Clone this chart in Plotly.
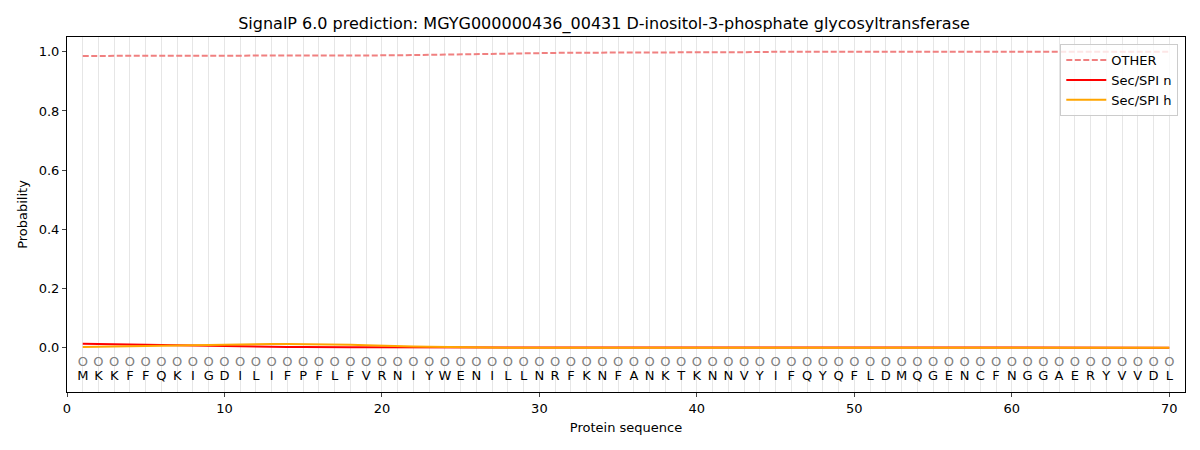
import plotly.graph_objects as go

sequence = list("MKKFFQKIGDILIFPFLFVRNIYWENILLNRFKNFANKTKNNVYIFQYQFLDMQGENCFNGGAERYVVDL")
positions = list(range(1, len(sequence) + 1))

other = [0.986, 0.986, 0.986, 0.986, 0.986, 0.986, 0.986, 0.986, 0.986, 0.986,
         0.986, 0.986, 0.986, 0.986, 0.986, 0.986, 0.986, 0.987, 0.987, 0.988,
         0.988, 0.989, 0.990, 0.991, 0.992, 0.993, 0.994, 0.995, 0.995, 0.996,
         0.996, 0.997, 0.997, 0.997, 0.998, 0.998, 0.998, 0.998, 0.999, 0.999,
         0.999, 0.999, 0.999, 0.999, 1.0, 1.0, 1.0, 1.0, 1.0, 1.0,
         1.0, 1.0, 1.0, 1.0, 1.0, 1.0, 1.0, 1.0, 1.0, 1.0,
         1.0, 1.0, 1.0, 1.0, 1.0, 1.0, 1.0, 1.0, 1.0, 1.0]
sec_n = [0.013, 0.012, 0.011, 0.010, 0.009, 0.008, 0.007, 0.006, 0.005, 0.004,
         0.003, 0.003, 0.002, 0.002, 0.002, 0.001, 0.001, 0.001, 0.001, 0.001,
         0.001, 0.0, 0.0, 0.0, 0.0] + [0.0] * 45
sec_h = [0.002, 0.003, 0.004, 0.005, 0.006, 0.007, 0.008, 0.009, 0.010, 0.011,
         0.011, 0.012, 0.012, 0.012, 0.012, 0.011, 0.011, 0.010, 0.008, 0.006,
         0.005, 0.004, 0.003, 0.002, 0.001, 0.001] + [0.0] * 44

fig = go.Figure()
fig.add_trace(go.Scatter(x=positions, y=other, mode="lines", name="OTHER",
                         line=dict(color="#F08080", width=2, dash="6px,2.5px")))
fig.add_trace(go.Scatter(x=positions, y=sec_n, mode="lines", name="Sec/SPI n",
                         line=dict(color="red", width=2)))
fig.add_trace(go.Scatter(x=positions, y=sec_h, mode="lines", name="Sec/SPI h",
                         line=dict(color="orange", width=2)))
fig.add_trace(go.Scatter(x=positions, y=[-0.05] * len(positions), mode="text",
                         text=["O"] * len(positions), showlegend=False, hoverinfo="skip",
                         textfont=dict(family="DejaVu Sans", size=13, color="gray")))
fig.add_trace(go.Scatter(x=positions, y=[-0.1] * len(positions), mode="text",
                         text=sequence, showlegend=False, hoverinfo="skip",
                         textfont=dict(family="DejaVu Sans", size=13, color="black")))

fig.update_layout(
    width=1192, height=442,
    margin=dict(l=59, r=15, t=29, b=58, autoexpand=False),
    paper_bgcolor="white", plot_bgcolor="white",
    font=dict(family="DejaVu Sans", size=13, color="black"),
    title=dict(text="SignalP 6.0 prediction: MGYG000000436_00431 D-inositol-3-phosphate glycosyltransferase",
               x=0.5, xanchor="center", y=0.977, yanchor="top", font=dict(size=16)),
    legend=dict(x=0.994, y=0.98, xanchor="right", yanchor="top",
                bgcolor="rgba(255,255,255,0.8)", bordercolor="#CCCCCC", borderwidth=1,
                font=dict(size=13), itemwidth=40),
    showlegend=True,
)
fig.update_xaxes(range=[0, 71], tickmode="array", tickvals=[0, 10, 20, 30, 40, 50, 60, 70],
                 showgrid=False, showline=True, linecolor="black", mirror=True,
                 ticks="outside", ticklen=4, zeroline=False, automargin=False,
                 title=dict(text="Protein sequence", font=dict(size=13), standoff=8),
                 minor=dict(tickmode="linear", tick0=1, dtick=1, showgrid=True,
                            gridcolor="rgba(200,200,200,0.45)", gridwidth=1, ticks=""))
fig.update_yaxes(range=[-0.15, 1.05], tickvals=[0, 0.2, 0.4, 0.6, 0.8, 1.0],
                 ticktext=["0.0", "0.2", "0.4", "0.6", "0.8", "1.0"],
                 showgrid=False, showline=True, linecolor="black", mirror=True,
                 ticks="outside", ticklen=4, zeroline=False, automargin=False,
                 title=dict(text="Probability", font=dict(size=13), standoff=8))

fig.write_html("out.html")
